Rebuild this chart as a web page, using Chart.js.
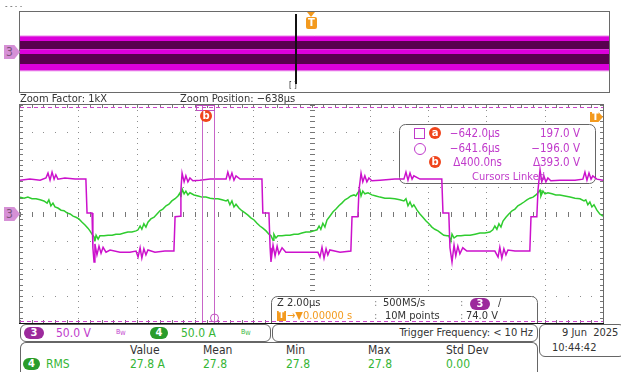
<!DOCTYPE html>
<html>
<head>
<meta charset="utf-8">
<title>Scope capture</title>
<script src="https://cdn.jsdelivr.net/npm/chart.js@4.4.1/dist/chart.umd.min.js"></script>
<style>
  body { margin: 0; background: #fff; }
  #scope { position: relative; width: 621px; height: 372px; overflow: hidden;
    font-family: "Liberation Sans Narrow", "DejaVu Sans Condensed", sans-serif; font-size: 11px; color: #333; }
  .abs { position: absolute; white-space: pre; line-height: 12px; z-index: 3; }
  .frame { position: absolute; box-sizing: border-box; border: 1px solid #666; border-radius: 6px; background: #fff; }
  .pill { position: absolute; height: 12px; line-height: 12px; border-radius: 6px; color: #fff; font-weight: bold;
    text-align: center; font-size: 11px; z-index: 3; }
  .mag { color: #c03acb; }
  .grn { color: #35b535; }
  .org { color: #f39a1e; }
  .dot { position: absolute; width: 12px; height: 12px; border-radius: 50%; background: #f0451c; color: #fff;
    font: bold 10px/12px "DejaVu Sans", sans-serif; text-align: center; z-index: 3; }
  .tag { position: absolute; background: #d690d6; color: #7b557b; font-size: 12px; line-height: 14px; height: 14px;
    width: 16px; padding-left: 2px; box-sizing: border-box; clip-path: polygon(0 0, 65% 0, 100% 50%, 65% 100%, 0 100%); z-index: 3; }
  .tagT { position: absolute; background: #f39a1e; color: #fff; font: bold 10px/10px "DejaVu Sans", sans-serif; height: 10px;
    width: 13px; padding-left: 2px; box-sizing: border-box; clip-path: polygon(0 0, 65% 0, 100% 50%, 65% 100%, 0 100%); z-index: 3; }
  sub { font-size: 6px; vertical-align: -1px; }
  #overWrap { position: absolute; left: 19px; top: 11px; width: 591px; height: 82px; }
  #mainWrap { position: absolute; left: 19px; top: 104px; width: 585px; height: 220px; z-index: 1; }
</style>
</head>
<body>
<div id="scope">
  <div class="abs" style="left:5px;top:1px;font-size:8px;color:#555">- - - -</div>

  <div id="overWrap"><canvas id="overview"></canvas></div>
  <div class="tag" style="left:4px;top:45px">3</div>
  <div style="position:absolute;left:307px;top:12px;width:0;height:0;border-left:4px solid transparent;border-right:4px solid transparent;border-top:5px solid #f39a1e;z-index:3"></div>
  <div style="position:absolute;left:306px;top:17px;width:11px;height:12px;border-radius:2px;background:#f39a1e;color:#fff;font:bold 10px/12px 'DejaVu Sans',sans-serif;text-align:center;z-index:3">T</div>
  <div class="abs" style="left:289px;top:82px;font-size:8px;line-height:8px;color:#222">[ ]</div>

  <div class="abs" style="left:20px;top:93px">Zoom Factor: 1kX</div>
  <div class="abs" style="left:180px;top:93px">Zoom Position: −638µs</div>

  <div id="mainWrap"><canvas id="main"></canvas></div>
  <div class="tag" style="left:4px;top:207px">3</div>
  <div class="tagT" style="left:590px;top:112px">T</div>
  <div class="dot" style="left:200px;top:110px">b</div>

  <!-- cursor readout -->
  <div style="position:absolute;left:414px;top:128px;width:9px;height:9px;border:1px solid #c03acb;z-index:3"></div>
  <div style="position:absolute;left:414px;top:143px;width:10px;height:10px;border:1px solid #c03acb;border-radius:50%;z-index:3"></div>
  <div class="dot" style="left:429px;top:127px">a</div>
  <div class="dot" style="left:429px;top:156px">b</div>
  <div class="abs mag" id="ra1" style="right:121px;top:127px;font-size:11.5px"></div>
  <div class="abs mag" id="rv1" style="right:41px;top:127px;font-size:11.5px"></div>
  <div class="abs mag" id="ra2" style="right:121px;top:142px;font-size:11.5px"></div>
  <div class="abs mag" id="rv2" style="right:41px;top:142px;font-size:11.5px"></div>
  <div class="abs mag" id="rdt" style="right:119px;top:156px;font-size:11.5px"></div>
  <div class="abs mag" id="rdv" style="right:41px;top:156px;font-size:11.5px"></div>
  <div class="abs mag" style="left:472px;top:171px;font-size:11px">Cursors Linked</div>

  <!-- acquisition box -->
  <div class="abs" style="left:277px;top:297px">Z 2.00µs</div>
  <div class="abs" style="left:374px;top:297px;color:#888">:</div>
  <div class="abs" style="left:383px;top:297px">500MS/s</div>
  <div class="abs" style="left:460px;top:297px;color:#888">:</div>
  <div class="pill" style="left:470px;top:298px;width:20px;background:#9c2a9c">3</div>
  <div class="abs" style="left:498px;top:297px">/</div>
  <div style="position:absolute;left:277px;top:311px;width:9px;height:10px;background:#f39a1e;color:#fff;font:bold 8px/10px 'DejaVu Sans',sans-serif;text-align:center;z-index:3">T</div>
  <div class="abs org" style="left:287px;top:310px;font-size:11px">→▼0.00000 s</div>
  <div class="abs" style="left:374px;top:310px;color:#888">:</div>
  <div class="abs" style="left:385px;top:310px">10M points</div>
  <div class="abs" style="left:460px;top:310px;color:#888">:</div>
  <div class="abs" style="left:466px;top:310px">74.0 V</div>

  <!-- channel row -->
  <div class="frame" style="left:20px;top:324px;width:251px;height:18px"></div>
  <div class="pill" style="left:24px;top:327px;width:20px;background:#9c2a9c">3</div>
  <div class="abs mag" style="left:56px;top:327px;font-size:12px">50.0 V</div>
  <div class="abs mag" style="left:116px;top:326px;font-size:7px">B<sub>W</sub></div>
  <div class="pill" style="left:150px;top:327px;width:18px;background:#2a9c2a">4</div>
  <div class="abs grn" style="left:181px;top:327px;font-size:12px">50.0 A</div>
  <div class="abs grn" style="left:241px;top:326px;font-size:7px">B<sub>W</sub></div>
  <div class="frame" style="left:272px;top:324px;width:266px;height:18px"></div>
  <div class="abs" style="right:88px;top:327px">Trigger Frequency: &lt; 10 Hz</div>
  <div class="frame" style="left:539px;top:324px;width:86px;height:33px"></div>
  <div class="abs" style="left:562px;top:327px">9 Jun  2025</div>
  <div class="abs" style="left:552px;top:342px">10:44:42</div>

  <!-- measurement table -->
  <div class="frame" style="left:20px;top:342px;width:518px;height:30px;border-bottom:none;border-radius:6px 6px 0 0"></div>
  <div id="meas"></div>
</div>

<script>
// zoom window: 2 µs/div, 10 div, centred on -638 µs
const windowStart = -648.24; // µs at the left edge
const cursorTimes = [-642.0, -641.6]; // µs
const cursorVolts = [197.0, -196.0]; // V
const recordSpan = [-10, 10]; // ms, overview record
const zoomPosition = -0.638; // ms

// CH3 voltage (V) vs time from left edge (µs)
const ch3Time = [0, 0.34, 0.69, 0.89, 0.96, 1.03, 1.10, 1.17, 1.23, 1.30,
  1.54, 1.89, 2.26, 2.30, 2.47, 2.50, 2.54, 2.57, 2.64, 2.71,
  2.78, 2.85, 2.95, 3.09, 3.43, 3.77, 3.98, 4.05, 4.12, 4.18,
  4.25, 4.32, 4.39, 4.63, 4.97, 5.28, 5.32, 5.49, 5.52, 5.56,
  5.63, 5.69, 5.76, 5.83, 5.93, 6.17, 6.52, 6.86, 7.07, 7.13,
  7.20, 7.27, 7.34, 7.41, 7.55, 7.89, 8.30, 8.33, 8.54, 8.58,
  8.61, 8.68, 8.75, 8.82, 8.88, 8.99, 9.12, 9.43, 9.78, 10.22,
  10.29, 10.36, 10.43, 10.50, 10.56, 10.63, 10.98, 11.35, 11.39, 11.59,
  11.63, 11.70, 11.76, 11.83, 11.90, 11.97, 12.07, 12.35, 12.86, 13.17,
  13.24, 13.31, 13.38, 13.45, 13.51, 13.72, 14.06, 14.47, 14.51, 14.71,
  14.75, 14.82, 14.89, 14.95, 15.02, 15.09, 15.19, 15.33, 15.78, 16.29,
  16.40, 16.46, 16.53, 16.60, 16.67, 16.74, 16.98, 17.49, 17.53, 17.73,
  17.77, 17.84, 17.90, 17.97, 18.04, 18.11, 18.21, 18.52, 19.04, 19.31,
  19.38, 19.45, 19.52, 19.59, 19.65, 19.79, 20.00];
const ch3Volts = [62, 64, 62, 66, 75, 62, 77, 64, 72, 64,
  66, 64, 64, 2, 2, -62, -88, -55, -75, -59,
  -72, -61, -70, -66, -70, -70, -68, -79, -62, -81,
  -64, -75, -66, -70, -68, -68, -5, -4, 44, 75,
  59, 70, 59, 66, 61, 62, 64, 64, 64, 77,
  64, 75, 62, 70, 64, 64, 64, 2, 2, -62,
  -88, -57, -77, -59, -73, -62, -70, -70, -70, -70,
  -79, -61, -81, -64, -75, -66, -70, -68, -5, -5,
  44, 75, 59, 70, 59, 66, 61, 62, 64, 64,
  77, 62, 75, 64, 70, 64, 64, 64, 2, 2,
  -62, -88, -57, -77, -59, -73, -62, -68, -68, -68,
  -79, -61, -81, -64, -75, -66, -68, -68, -5, -5,
  44, 81, 59, 70, 59, 66, 61, 62, 62, 64,
  77, 62, 75, 64, 70, 64, 62];

// CH4 current (A) vs time from left edge (µs)
const ch4Time = [0.00, 0.14, 0.27, 0.41, 0.55, 0.69, 0.82, 0.93, 0.99, 1.06,
  1.13, 1.20, 1.30, 1.41, 1.51, 1.61, 1.72, 1.82, 1.92, 2.02,
  2.13, 2.23, 2.33, 2.40, 2.47, 2.54, 2.57, 2.61, 2.68, 2.74,
  2.88, 3.02, 3.16, 3.29, 3.43, 3.57, 3.70, 3.84, 3.98, 4.05,
  4.12, 4.18, 4.25, 4.32, 4.39, 4.49, 4.60, 4.70, 4.80, 4.90,
  5.01, 5.11, 5.21, 5.32, 5.42, 5.49, 5.52, 5.56, 5.63, 5.69,
  5.76, 5.83, 5.97, 6.11, 6.24, 6.38, 6.52, 6.65, 6.79, 6.93,
  7.07, 7.13, 7.20, 7.27, 7.34, 7.41, 7.51, 7.61, 7.72, 7.82,
  7.92, 8.03, 8.13, 8.23, 8.33, 8.44, 8.54, 8.61, 8.68, 8.71,
  8.78, 8.85, 8.99, 9.12, 9.26, 9.40, 9.54, 9.67, 9.81, 9.95,
  10.08, 10.19, 10.26, 10.32, 10.39, 10.46, 10.53, 10.63, 10.74, 10.84,
  10.94, 11.04, 11.15, 11.25, 11.35, 11.46, 11.52, 11.59, 11.66, 11.70,
  11.76, 11.83, 11.94, 12.07, 12.21, 12.35, 12.52, 12.69, 12.86, 13.03,
  13.17, 13.24, 13.31, 13.38, 13.45, 13.51, 13.62, 13.72, 13.82, 13.93,
  14.03, 14.13, 14.23, 14.34, 14.44, 14.54, 14.65, 14.71, 14.78, 14.82,
  14.89, 14.99, 15.13, 15.26, 15.44, 15.61, 15.78, 15.95, 16.12, 16.22,
  16.29, 16.36, 16.43, 16.50, 16.57, 16.67, 16.77, 16.88, 16.98, 17.08,
  17.18, 17.29, 17.39, 17.49, 17.60, 17.70, 17.77, 17.84, 17.87, 17.94,
  18.01, 18.11, 18.25, 18.38, 18.52, 18.69, 18.87, 19.04, 19.21, 19.35,
  19.41, 19.48, 19.55, 19.62, 19.69, 19.79, 19.89, 20.00];
const ch4Amps = [31, 29, 31, 28, 28, 26, 24, 20, 26, 15,
  20, 13, 11, 7, 6, 2, 0, -4, -6, -9,
  -15, -20, -26, -31, -37, -42, -50, -39, -46, -40,
  -40, -39, -39, -37, -37, -35, -33, -33, -31, -29,
  -22, -28, -18, -24, -15, -9, -6, 0, 6, 9,
  15, 18, 24, 28, 33, 39, 31, 46, 37, 42,
  35, 39, 35, 33, 31, 31, 29, 28, 28, 26,
  24, 26, 17, 24, 13, 18, 11, 6, 2, -2,
  -7, -11, -17, -22, -26, -31, -37, -40, -48, -37,
  -44, -40, -40, -39, -39, -37, -37, -35, -33, -33,
  -31, -29, -22, -28, -17, -24, -11, -4, 4, 9,
  15, 20, 26, 29, 33, 35, 33, 39, 44, 33,
  42, 37, 39, 35, 33, 31, 29, 29, 28, 26,
  24, 28, 15, 22, 13, 17, 7, 0, -6, -13,
  -18, -24, -28, -31, -35, -39, -40, -40, -50, -37,
  -44, -40, -40, -39, -39, -37, -35, -35, -33, -29,
  -22, -28, -18, -24, -13, -6, 0, 6, 9, 15,
  18, 22, 26, 29, 31, 35, 39, 44, 33, 42,
  37, 39, 37, 35, 35, 33, 31, 29, 28, 24,
  26, 17, 22, 13, 17, 7, 0, -4];

// overview envelope: band edges (V) and shading
const overviewEdges = [-94, -60, -10, 14, 55, 80];
const overviewShades = ['#dc00dc', '#58004f', '#dc00dc', '#58004f', '#dc00dc'];

// measurement table
const measHeaders = ['Value', 'Mean', 'Min', 'Max', 'Std Dev'];
const measValues = ['27.8 A', '27.8', '27.8', '27.8', '0.00'];

const fmt = (v, d) => (v < 0 ? '−' : '') + Math.abs(v).toFixed(d);

// readouts
document.getElementById('ra1').textContent = fmt(cursorTimes[0], 1) + 'µs';
document.getElementById('ra2').textContent = fmt(cursorTimes[1], 1) + 'µs';
document.getElementById('rv1').textContent = fmt(cursorVolts[0], 1) + ' V';
document.getElementById('rv2').textContent = fmt(cursorVolts[1], 1) + ' V';
document.getElementById('rdt').textContent = 'Δ' + ((cursorTimes[1] - cursorTimes[0]) * 1000).toFixed(1) + 'ns';
document.getElementById('rdv').textContent = 'Δ' + (cursorVolts[0] - cursorVolts[1]).toFixed(1) + ' V';

const measCols = [130, 203, 286, 368, 446];
const meas = document.getElementById('meas');
let html = '<div class="pill" style="left:23px;top:358px;width:17px;background:#2a9c2a">4</div>' +
  '<div class="abs grn" style="left:46px;top:358px;font-size:12px">RMS</div>';
measHeaders.forEach((h, i) => {
  html += `<div class="abs" style="left:${measCols[i]}px;top:344px;font-size:12px">${h}</div>`;
  html += `<div class="abs grn" style="left:${measCols[i]}px;top:358px;font-size:12px">${measValues[i]}</div>`;
});
meas.innerHTML = html;

// main graticule, panels and cursors
const OX = 19, OY = 104;
const graticule = {
  id: 'graticule',
  beforeDatasetsDraw(chart) {
    const { ctx, scales: { x, y } } = chart;
    const left = Math.round(x.getPixelForValue(0)), right = Math.round(x.getPixelForValue(20));
    const top = Math.round(y.getPixelForValue(200)), bottom = Math.round(y.getPixelForValue(-200));
    const cx = Math.round(x.getPixelForValue(10)), cy = Math.round(y.getPixelForValue(0));
    ctx.save();
    ctx.fillStyle = '#8e8e8e';
    for (let d = 1; d < 10; d++) {
      const px = Math.round(x.getPixelForValue(d * 2));
      for (let v = -200; v <= 200; v += 10) ctx.fillRect(px, Math.round(y.getPixelForValue(v)), 1, 1);
    }
    for (let d = -3; d <= 3; d++) {
      const py = Math.round(y.getPixelForValue(d * 50));
      for (let k = 0; k <= 50; k++) ctx.fillRect(Math.round(x.getPixelForValue(k * 0.4)), py, 1, 1);
    }
    ctx.fillStyle = '#777';
    for (let v = -200; v <= 200; v += 10) {
      const py = Math.round(y.getPixelForValue(v));
      ctx.fillRect(cx - 2, py, 5, 1);
      ctx.fillRect(left, py, 3, 1);
      ctx.fillRect(right - 3, py, 3, 1);
    }
    for (let k = 0; k <= 50; k++) {
      const px = Math.round(x.getPixelForValue(k * 0.4));
      ctx.fillRect(px, cy - 2, 1, 5);
      ctx.fillRect(px, top, 1, 3);
      ctx.fillRect(px, bottom - 3, 1, 3);
    }
    // readout and acquisition panels
    ctx.fillStyle = '#fff';
    ctx.strokeStyle = '#666';
    ctx.lineWidth = 1;
    ctx.beginPath();
    ctx.roundRect(399.5 - OX, 124.5 - OY, 196, 59, 6);
    ctx.fill(); ctx.stroke();
    ctx.beginPath();
    ctx.roundRect(271.5 - OX, 296.5 - OY, 266, 30, [6, 6, 0, 0]);
    ctx.fill(); ctx.stroke();
    ctx.restore();
  },
  afterDatasetsDraw(chart) {
    const { ctx, scales: { x, y } } = chart;
    const left = x.getPixelForValue(0), right = x.getPixelForValue(20);
    const top = y.getPixelForValue(200), bottom = y.getPixelForValue(-200);
    ctx.save();
    ctx.lineWidth = 1;
    ctx.strokeStyle = '#c865c8';
    cursorTimes.forEach(t => {
      const px = Math.round(x.getPixelForValue(t - windowStart)) + 0.5;
      ctx.beginPath(); ctx.moveTo(px, top); ctx.lineTo(px, bottom); ctx.stroke();
    });
    ctx.strokeStyle = '#cc44cc';
    ctx.setLineDash([4, 3]);
    cursorVolts.forEach(v => {
      const py = Math.round(y.getPixelForValue(v)) + 0.5;
      ctx.beginPath(); ctx.moveTo(left, py); ctx.lineTo(right, py); ctx.stroke();
    });
    ctx.setLineDash([]);
    // cursor handles
    const pa = Math.round(x.getPixelForValue(cursorTimes[0] - windowStart)) + 0.5;
    const pb = Math.round(x.getPixelForValue(cursorTimes[1] - windowStart)) + 0.5;
    ctx.strokeStyle = '#c050c0';
    ctx.strokeRect(pa - 6, top + 0.5, pb - pa + 6, 5);
    ctx.beginPath(); ctx.arc(pb, bottom - 5, 4, 0, Math.PI * 2); ctx.stroke();
    // frame
    ctx.strokeStyle = '#6a6a6a';
    ctx.strokeRect(Math.round(left) - 0.5, Math.round(top) - 0.5, Math.round(right - left) + 1, Math.round(bottom - top) + 1);
    ctx.fillStyle = '#111';
    ctx.fillRect(Math.round(left) - 1, Math.round(bottom), Math.round(right - left) + 2, 2);
    ctx.restore();
  }
};

new Chart(document.getElementById('main'), {
  type: 'line',
  data: {
    datasets: [
      {
        label: 'CH3 (V)',
        data: ch3Time.map((t, i) => ({ x: t, y: ch3Volts[i] })),
        borderColor: '#cc11cc',
        borderWidth: 1.5,
        pointRadius: 0,
        tension: 0,
      },
      {
        label: 'CH4 (A)',
        data: ch4Time.map((t, i) => ({ x: t, y: ch4Amps[i] })),
        borderColor: '#2fcc2f',
        borderWidth: 1.5,
        pointRadius: 0,
        tension: 0,
      },
    ],
  },
  options: {
    responsive: true,
    maintainAspectRatio: false,
    animation: false,
    events: [],
    layout: { padding: 1 },
    scales: {
      x: { type: 'linear', min: 0, max: 20, display: false },
      y: { min: -200, max: 200, display: false },
    },
    plugins: { legend: { display: false }, tooltip: { enabled: false } },
  },
  plugins: [graticule],
});

// overview record
const overviewFrame = {
  id: 'overviewFrame',
  afterDatasetsDraw(chart) {
    const { ctx, scales: { x, y } } = chart;
    const left = x.getPixelForValue(recordSpan[0]), right = x.getPixelForValue(recordSpan[1]);
    const top = y.getPixelForValue(200), bottom = y.getPixelForValue(-200);
    ctx.save();
    ctx.fillStyle = '#111';
    ctx.fillRect(Math.round(x.getPixelForValue(zoomPosition)) - 1, top + 2, 2, bottom - top - 10);
    ctx.strokeStyle = '#6a6a6a';
    ctx.lineWidth = 1;
    ctx.strokeRect(Math.round(left) - 0.5, Math.round(top) - 0.5, Math.round(right - left) + 1, Math.round(bottom - top) + 1);
    ctx.restore();
  }
};

new Chart(document.getElementById('overview'), {
  type: 'line',
  data: {
    datasets: overviewEdges.map((v, i) => ({
      data: recordSpan.map(t => ({ x: t, y: v })),
      borderColor: (i === 0 || i === overviewEdges.length - 1) ? '#e880e8' : 'rgba(0,0,0,0)',
      borderWidth: (i === 0 || i === overviewEdges.length - 1) ? 1 : 0,
      pointRadius: 0,
      fill: i === 0 ? false : '-1',
      backgroundColor: i === 0 ? 'transparent' : overviewShades[i - 1],
    })),
  },
  options: {
    responsive: true,
    maintainAspectRatio: false,
    animation: false,
    events: [],
    layout: { padding: 1 },
    scales: {
      x: { type: 'linear', min: recordSpan[0], max: recordSpan[1], display: false },
      y: { min: -200, max: 200, display: false },
    },
    plugins: { legend: { display: false }, tooltip: { enabled: false } },
  },
  plugins: [overviewFrame],
});
</script>
</body>
</html>
